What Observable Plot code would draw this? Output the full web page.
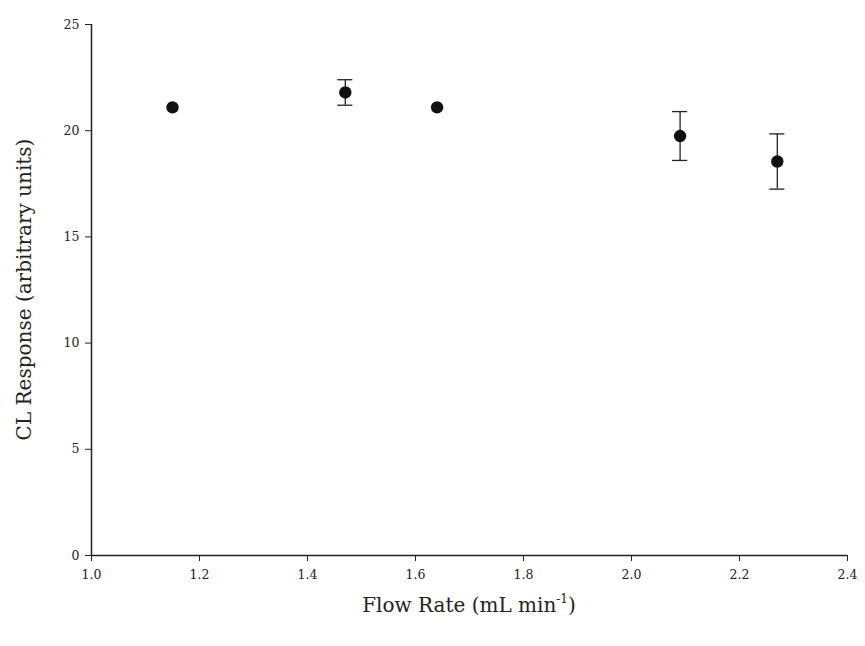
<!DOCTYPE html>
<html><head><meta charset="utf-8">
<script src="https://cdn.jsdelivr.net/npm/d3@7"></script>
<script src="https://cdn.jsdelivr.net/npm/@observablehq/plot@0.6"></script>
<style>body{margin:0;background:#fff} svg{font-family:"DejaVu Serif",serif}</style>
</head><body><div id="chart"></div>
<script>
const flowRate = [1.15, 1.47, 1.64, 2.09, 2.27];
const response = [21.1, 21.8, 21.1, 19.75, 18.55];
const errorBar = [0, 0.6, 0, 1.15, 1.3];
const xTicks = [1.0, 1.2, 1.4, 1.6, 1.8, 2.0, 2.2, 2.4];
const yTicks = [0, 5, 10, 15, 20, 25];
const xTitle = "Flow Rate (mL min";
const xTitleSup = "-1";
const yTitle = "CL Response (arbitrary units)";

const data = flowRate.map((x, i) => ({x, y: response[i], e: errorBar[i]}));
const withErr = data.filter(d => d.e > 0);
const capHalf = 0.014;

const plot = Plot.plot({
  width: 865, height: 646,
  marginLeft: 91, marginRight: 18, marginTop: 24, marginBottom: 91,
  style: {fontFamily: "DejaVu Serif, serif", fontSize: "12.5px", color: "#222", background: "#fff"},
  x: {domain: [1.0, 2.4]},
  y: {domain: [0, 25]},
  marks: [
    Plot.axisX({ticks: xTicks, tickFormat: d3.format(".1f"), tickSize: 6, tickPadding: 9, label: null}),
    Plot.axisY({ticks: yTicks, tickSize: 6, tickPadding: 6, label: null}),
    Plot.ruleY([0], {stroke: "#222", strokeWidth: 1.5}),
    Plot.ruleX([1.0], {stroke: "#222", strokeWidth: 1.5}),
    Plot.ruleX(withErr, {x: "x", y1: d => d.y - d.e, y2: d => d.y + d.e, stroke: "#222", strokeWidth: 1.3}),
    Plot.ruleY(withErr, {y: d => d.y + d.e, x1: d => d.x - capHalf, x2: d => d.x + capHalf, stroke: "#222", strokeWidth: 1.3}),
    Plot.ruleY(withErr, {y: d => d.y - d.e, x1: d => d.x - capHalf, x2: d => d.x + capHalf, stroke: "#222", strokeWidth: 1.3}),
    Plot.dot(data, {x: "x", y: "y", r: 6.2, fill: "#111", stroke: "none"})
  ]
});

const svg = d3.select(plot);
const xl = svg.append("text")
  .attr("x", (91 + 847) / 2).attr("y", 612)
  .attr("text-anchor", "middle")
  .attr("font-size", 20).attr("fill", "#222");
xl.append("tspan").text(xTitle);
xl.append("tspan").attr("font-size", 12).attr("dy", -9).text(xTitleSup);
xl.append("tspan").attr("dy", 9).text(")");

svg.append("text")
  .attr("transform", `translate(31,${(24 + 555) / 2}) rotate(-90)`)
  .attr("text-anchor", "middle")
  .attr("font-size", 20).attr("fill", "#222")
  .text(yTitle);

document.getElementById("chart").appendChild(plot);
</script></body></html>
